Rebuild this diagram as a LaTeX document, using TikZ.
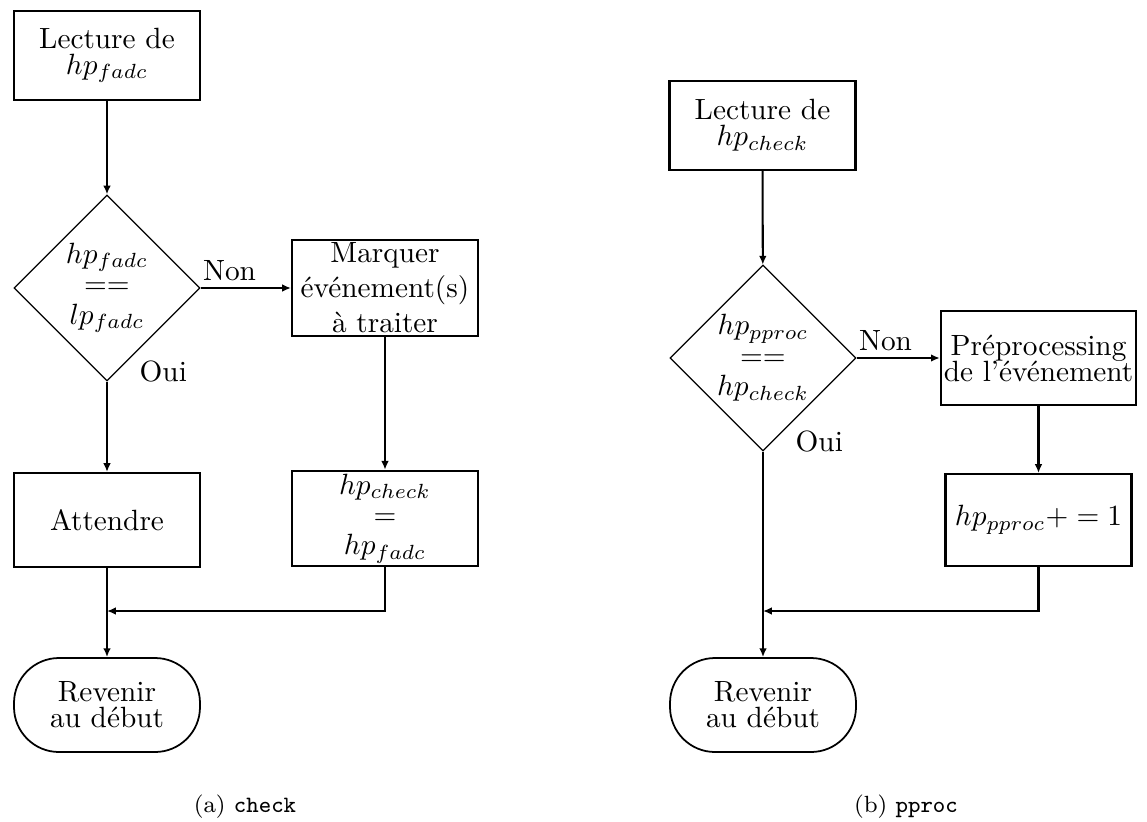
\documentclass[tikz,border=0pt]{standalone}
\usepackage{tikz}
\usetikzlibrary{arrows.meta,calc,positioning,shapes.geometric}

\begin{document}
\begin{tikzpicture}[>={Latex[length=3pt,width=2.6pt]},
  tight/.style={font={\fontsize{10pt}{8.9pt}\selectfont\lineskiplimit=-10pt}},
  stack/.style={font={\fontsize{10pt}{10.4pt}\selectfont\lineskiplimit=-10pt}},
  box/.style={draw,line width=0.7pt,minimum width=2.232cm,minimum height=1.104cm,align=center,inner sep=1pt},
  test/.style={draw,diamond,line width=0.4pt,minimum width=2.232cm,minimum height=2.232cm,inner sep=0pt,align=center,stack},
  term/.style={draw,line width=0.6pt,rounded corners=0.54cm,minimum width=2.232cm,minimum height=1.128cm,align=center,tight},
  flow/.style={->,line width=0.7pt},
  lbl/.style={inner sep=0pt}]
  \useasboundingbox (0,0) rectangle (13.764,-9.852);
  % (a) check
  \node[box,tight,minimum height=1.068cm] (lect1) at (1.284,-0.666) {Lecture de\\$hp_{fadc}$};
  \node[test] (dia1) at (1.284,-3.456) {$hp_{fadc}$\\$==$\\$lp_{fadc}$};
  \node[box] (mark1) at (4.62,-3.456) {Marquer\\événement(s)\\à traiter};
  \node[box,minimum height=1.128cm] (wait1) at (1.284,-6.24) {Attendre};
  \node[box,stack,minimum height=1.116cm] (assign1) at (4.62,-6.222) {$hp_{check}$\\$=$\\$hp_{fadc}$};
  \node[term] (end1) at (1.284,-8.46) {Revenir\\au début};
  \coordinate (join1) at (1.284,-7.332);
  \node (capa) at (2.94,-9.684) {\footnotesize (a) \texttt{check}};
  \draw[flow] (lect1) -- (dia1);
  \draw[flow] (dia1) -- node[lbl,pos=0,anchor=base west,xshift=0.5pt,yshift=2.7pt] (non1) {Non} (mark1);
  \draw[flow] (dia1) -- node[lbl,pos=0,anchor=base west,xshift=0.38cm] (oui1) {Oui} (wait1);
  \draw[flow] (mark1) -- (assign1);
  \draw[flow] (wait1) -- (end1);
  \draw[flow] (assign1.south) |- (join1);
  % (b) pproc
  \node[box,tight,minimum height=1.068cm] (lect2) at (9.15,-1.506) {Lecture de\\$hp_{check}$};
  \node[test] (dia2) at (9.156,-4.296) {$hp_{pproc}$\\$==$\\$hp_{check}$};
  \node[box,tight,minimum height=1.128cm] (prep2) at (12.462,-4.296) {Préprocessing\\de l'événement};
  \node[box] (incr2) at (12.462,-6.24) {$hp_{pproc}+=1$};
  \node[term] (end2) at (9.156,-8.46) {Revenir\\au début};
  \coordinate (join2) at (9.156,-7.332);
  \node (capb) at (10.872,-9.684) {\footnotesize (b) \texttt{pproc}};
  \draw[flow] (lect2) -- (dia2);
  \draw[flow] (dia2) -- node[lbl,pos=0,anchor=base west,xshift=0.5pt,yshift=2.7pt] (non2) {Non} (prep2);
  \draw[flow] (dia2) -- node[lbl,pos=0,anchor=base west,xshift=0.38cm] (oui2) {Oui} (end2);
  \draw[flow] (prep2) -- (incr2);
  \draw[flow] (incr2.south) |- (join2);
\end{tikzpicture}
\end{document}
